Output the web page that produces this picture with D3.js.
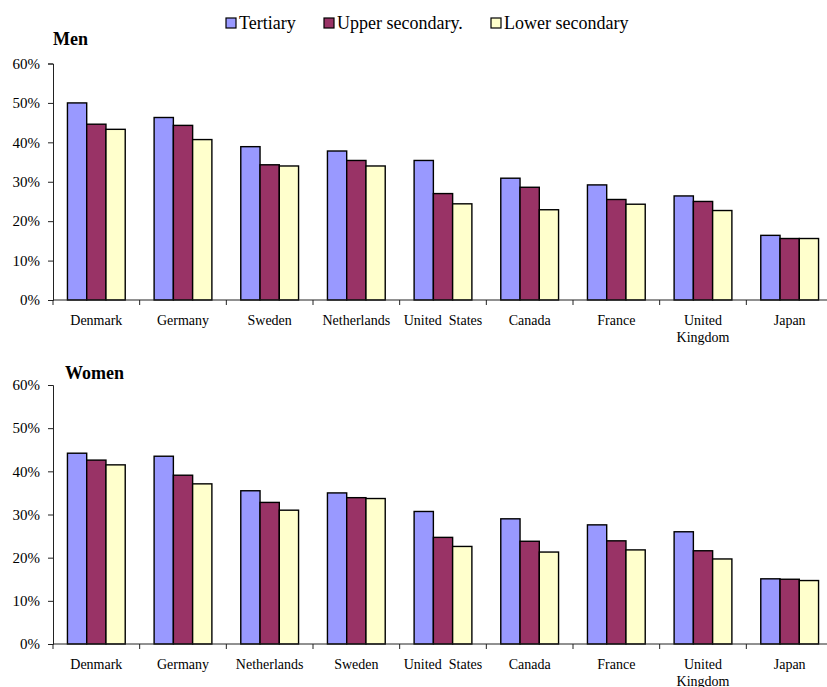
<!DOCTYPE html>
<html>
<head>
<meta charset="utf-8">
<script src="https://cdn.jsdelivr.net/npm/d3@7"></script>
<style>
  html, body { margin: 0; padding: 0; background: #fff; }
  svg { display: block; }
  text { font-family: "Liberation Serif", "Times New Roman", serif; fill: #000; }
</style>
</head>
<body>
<svg id="chart" width="827" height="687"></svg>
<script>
// Shares by education level, two panels
const seriesNames = ["Tertiary", "Upper secondary.", "Lower secondary"];
const seriesColors = ["#9999FF", "#993366", "#FFFFCC"];

const menCountries = ["Denmark", "Germany", "Sweden", "Netherlands", "United  States", "Canada", "France", "United\nKingdom", "Japan"];
const menTertiary = [50.0, 46.3, 38.9, 37.8, 35.4, 30.9, 29.2, 26.4, 16.4];
const menUpper    = [44.6, 44.3, 34.3, 35.4, 27.0, 28.6, 25.5, 25.0, 15.6];
const menLower    = [43.3, 40.7, 34.0, 34.0, 24.4, 22.9, 24.3, 22.7, 15.6];

const womenCountries = ["Denmark", "Germany", "Netherlands", "Sweden", "United  States", "Canada", "France", "United\nKingdom", "Japan"];
const womenTertiary = [44.2, 43.5, 35.5, 35.0, 30.7, 29.0, 27.6, 26.0, 15.1];
const womenUpper    = [42.6, 39.1, 32.8, 33.9, 24.7, 23.8, 23.9, 21.6, 15.0];
const womenLower    = [41.5, 37.1, 31.0, 33.7, 22.6, 21.3, 21.8, 19.7, 14.7];

const yTicks = [0, 10, 20, 30, 40, 50, 60];

const svg = d3.select("#chart");

// Legend across the top
const legendX = [226, 324, 491];
const legend = svg.append("g");
seriesNames.forEach((name, i) => {
  legend.append("rect")
    .attr("x", legendX[i]).attr("y", 18)
    .attr("width", 10).attr("height", 10)
    .attr("fill", seriesColors[i])
    .attr("stroke", "#000").attr("stroke-width", 1.2);
  legend.append("text")
    .attr("x", legendX[i] + 13).attr("y", 29)
    .style("font-size", "18px")
    .text(name);
});

function drawPanel(opts) {
  const { title, titleX, titleY, top, bottom, countries, values } = opts;
  const left = 53, right = 833;

  const x = d3.scaleBand().domain(countries).range([left, right]).paddingInner(0).paddingOuter(0);
  const y = d3.scaleLinear().domain([0, 60]).range([bottom, top]);
  // gap width 150%: bar = step / 4.5
  const bw = x.bandwidth() / 4.5;
  const inner = d3.scaleBand().domain(d3.range(seriesNames.length))
    .range([0.75 * bw, 3.75 * bw]).padding(0);

  const g = svg.append("g");

  g.append("text")
    .attr("x", titleX).attr("y", titleY)
    .style("font-size", "18px").style("font-weight", "bold")
    .text(title);

  // bars
  values.forEach((vals, s) => {
    g.append("g").selectAll("rect")
      .data(vals)
      .join("rect")
      .attr("x", (d, i) => x(countries[i]) + inner(s))
      .attr("y", d => y(d))
      .attr("width", inner.bandwidth())
      .attr("height", d => y(0) - y(d))
      .attr("fill", seriesColors[s])
      .attr("stroke", "#000")
      .attr("stroke-width", 1.4);
  });

  // y axis
  const yAxis = d3.axisLeft(y).tickValues(yTicks).tickFormat(d => d + "%").tickSize(5).tickPadding(8);
  const ya = g.append("g").attr("transform", `translate(${left},0)`).call(yAxis);
  ya.select(".domain").attr("stroke", "#222");
  ya.selectAll(".tick line").attr("stroke", "#222");
  ya.selectAll(".tick text").style("font-size", "15px").attr("font-family", null);

  // x axis: line along the baseline with ticks between categories
  g.append("line")
    .attr("x1", left).attr("x2", right)
    .attr("y1", y(0)).attr("y2", y(0))
    .attr("stroke", "#222");
  g.selectAll(".xt")
    .data(countries)
    .join("line")
    .attr("x1", d => x(d)).attr("x2", d => x(d))
    .attr("y1", y(0)).attr("y2", y(0) + 5)
    .attr("stroke", "#222");

  // category labels (multi-line where needed)
  const labels = g.append("g").selectAll("text")
    .data(countries)
    .join("text")
    .attr("x", d => x(d) + x.bandwidth() / 2)
    .attr("y", y(0) + 25)
    .attr("text-anchor", "middle")
    .style("font-size", "14px")
    .style("white-space", "pre");
  labels.each(function(d) {
    const t = d3.select(this);
    d.split("\n").forEach((line, i) => {
      t.append("tspan")
        .attr("x", x(d) + x.bandwidth() / 2)
        .attr("dy", i === 0 ? 0 : 17)
        .text(line);
    });
  });
}

drawPanel({
  title: "Men", titleX: 53, titleY: 45,
  top: 63.5, bottom: 300,
  countries: menCountries,
  values: [menTertiary, menUpper, menLower]
});

drawPanel({
  title: "Women", titleX: 65, titleY: 379,
  top: 385, bottom: 644,
  countries: womenCountries,
  values: [womenTertiary, womenUpper, womenLower]
});
</script>
</body>
</html>
